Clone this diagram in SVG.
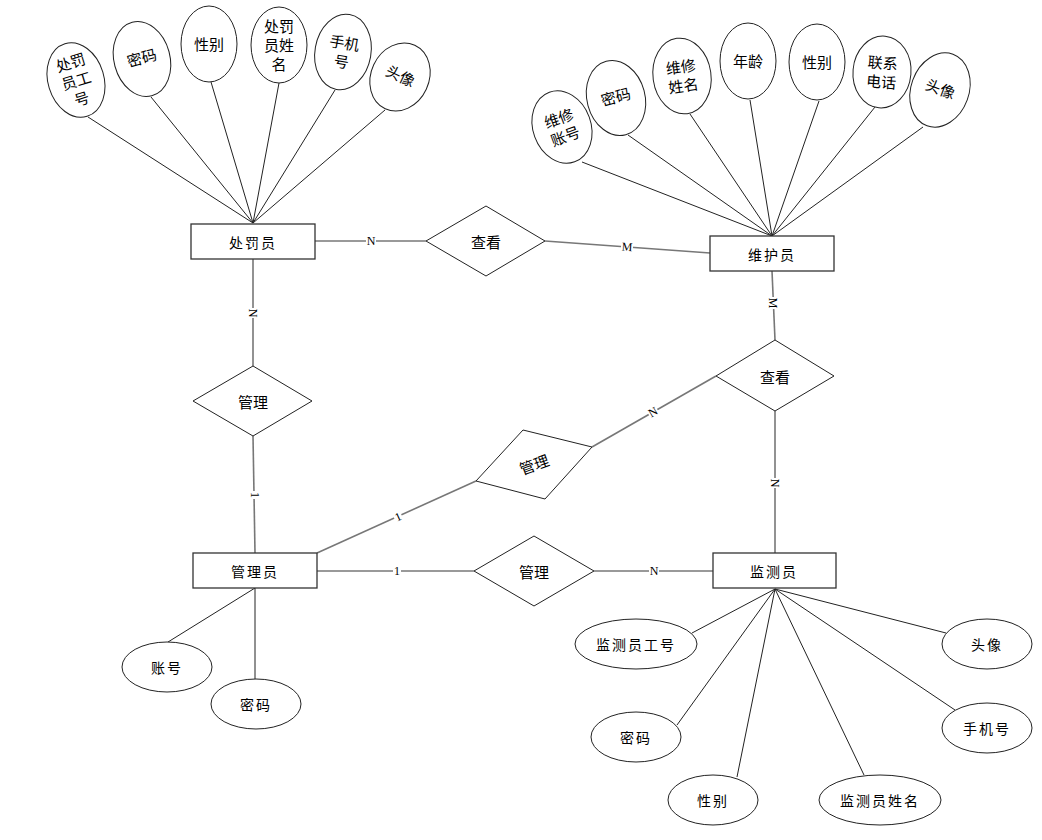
<svg xmlns="http://www.w3.org/2000/svg" width="1042" height="840" viewBox="0 0 1042 840">
<style>
.ent{fill:#fff;stroke:#333;stroke-width:1.3}
.rel{fill:#fff;stroke:#222;stroke-width:1}
.att{fill:#fff;stroke:#222;stroke-width:1}
.t{font-family:"Noto Sans CJK SC","Liberation Sans",sans-serif;font-size:15px;fill:#000;text-anchor:middle;dominant-baseline:central}
.ts{font-family:"Noto Sans CJK SC","Liberation Sans",sans-serif;font-size:14px;fill:#000;text-anchor:middle;dominant-baseline:central;letter-spacing:2px}
.al{stroke:#222;stroke-width:1;fill:none}
.rl{stroke:#777;stroke-width:1.6;fill:none}
.lb{font-family:"Liberation Serif",serif;font-size:12px;fill:#000;text-anchor:middle;dominant-baseline:central}
.lbg{fill:#fff}
</style>
<rect width="1042" height="840" fill="#fff"/>
<g id="connectors">
<!-- 处罚员 attributes -->
<line class="al" x1="253" y1="223" x2="88" y2="117"/>
<line class="al" x1="253" y1="223" x2="151" y2="97"/>
<line class="al" x1="253" y1="223" x2="211" y2="82"/>
<line class="al" x1="253" y1="223" x2="279" y2="83"/>
<line class="al" x1="253" y1="223" x2="335" y2="90"/>
<line class="al" x1="253" y1="223" x2="385" y2="110"/>
<!-- 维护员 attributes -->
<line class="al" x1="772" y1="236" x2="582" y2="162"/>
<line class="al" x1="772" y1="236" x2="628" y2="135"/>
<line class="al" x1="772" y1="236" x2="690" y2="114"/>
<line class="al" x1="772" y1="236" x2="750" y2="100"/>
<line class="al" x1="772" y1="236" x2="819" y2="101"/>
<line class="al" x1="772" y1="236" x2="875" y2="107"/>
<line class="al" x1="772" y1="236" x2="923" y2="127"/>
<!-- 管理员 attributes -->
<line class="al" x1="255" y1="588" x2="168" y2="642"/>
<line class="al" x1="255" y1="588" x2="255" y2="679"/>
<!-- 监测员 attributes -->
<line class="al" x1="775" y1="589" x2="692" y2="633"/>
<line class="al" x1="775" y1="589" x2="677" y2="725"/>
<line class="al" x1="775" y1="589" x2="737" y2="777"/>
<line class="al" x1="775" y1="589" x2="864" y2="775"/>
<line class="al" x1="775" y1="589" x2="955" y2="710"/>
<line class="al" x1="775" y1="589" x2="946" y2="633"/>
<!-- relationships -->
<line class="rl" x1="315" y1="241" x2="426" y2="241"/>
<line class="rl" x1="545" y1="241" x2="710" y2="253"/>
<line class="rl" x1="253" y1="259" x2="253" y2="366"/>
<line class="rl" x1="253" y1="436" x2="255" y2="553"/>
<line class="rl" x1="317" y1="553" x2="476" y2="481"/>
<line class="rl" x1="592" y1="447" x2="716" y2="376"/>
<line class="rl" x1="772" y1="271" x2="775" y2="340"/>
<line class="rl" x1="775" y1="411" x2="775" y2="553"/>
<line class="rl" x1="317" y1="571" x2="474" y2="571"/>
<line class="rl" x1="594" y1="571" x2="713" y2="571"/>
<!-- cardinality labels -->
<g transform="translate(371,241)"><rect class="lbg" x="-5" y="-6" width="10" height="12"/><text class="lb">N</text></g>
<g transform="translate(627,247) rotate(4)"><rect class="lbg" x="-6" y="-6" width="12" height="12"/><text class="lb">M</text></g>
<g transform="translate(253,313) rotate(90)"><rect class="lbg" x="-5" y="-6" width="10" height="12"/><text class="lb">N</text></g>
<g transform="translate(255,495) rotate(90)"><rect class="lbg" x="-4" y="-6" width="8" height="12"/><text class="lb">1</text></g>
<g transform="translate(398,517) rotate(-24)"><rect class="lbg" x="-4" y="-6" width="8" height="12"/><text class="lb">1</text></g>
<g transform="translate(653,412) rotate(-30)"><rect class="lbg" x="-5" y="-6" width="10" height="12"/><text class="lb">N</text></g>
<g transform="translate(773,303) rotate(90)"><rect class="lbg" x="-6" y="-6" width="12" height="12"/><text class="lb">M</text></g>
<g transform="translate(775,483) rotate(90)"><rect class="lbg" x="-5" y="-6" width="10" height="12"/><text class="lb">N</text></g>
<g transform="translate(397,571)"><rect class="lbg" x="-4" y="-6" width="8" height="12"/><text class="lb">1</text></g>
<g transform="translate(654,571)"><rect class="lbg" x="-5" y="-6" width="10" height="12"/><text class="lb">N</text></g>
</g>
<!-- entities -->
<g id="chufayuan"><rect class="ent" x="191" y="224" width="124" height="35"/><text class="ts" x="253" y="241.5">处罚员</text></g>
<g id="weihuyuan"><rect class="ent" x="710" y="236" width="124" height="35"/><text class="ts" x="772" y="253.5">维护员</text></g>
<g id="guanliyuan"><rect class="ent" x="193" y="553" width="124" height="35"/><text class="ts" x="255" y="570.5">管理员</text></g>
<g id="jianceyuan"><rect class="ent" x="713" y="553" width="123" height="35"/><text class="ts" x="774" y="570.5">监测员</text></g>
<!-- relationships -->
<g id="chakan1"><polygon class="rel" points="486,206 545,241 486,276 426,241"/><text class="t" x="486" y="241">查看</text></g>
<g id="guanli1"><polygon class="rel" points="253,366 312,401 253,436 193,401"/><text class="t" x="253" y="401">管理</text></g>
<g id="guanli2"><polygon class="rel" points="523,430 592,447 545,499 476,481"/><text class="t" x="534" y="464" transform="rotate(-20 534 464)">管理</text></g>
<g id="chakan2"><polygon class="rel" points="775,340 834,376 775,411 716,376"/><text class="t" x="775" y="376">查看</text></g>
<g id="guanli3"><polygon class="rel" points="534,536 594,571 534,606 474,571"/><text class="t" x="534" y="571">管理</text></g>
<!-- 处罚员 attributes -->
<g id="cf-gonghao" transform="rotate(-17 76 80)"><ellipse class="att" cx="76" cy="80" rx="28" ry="38"/><text class="t" x="76" y="61">处罚</text><text class="t" x="76" y="80">员工</text><text class="t" x="76" y="99">号</text></g>
<g id="cf-mima" transform="rotate(-15 142 59)"><ellipse class="att" cx="142" cy="59" rx="28" ry="38"/><text class="t" x="142" y="57">密码</text></g>
<g id="cf-xingbie"><ellipse class="att" cx="209" cy="44" rx="28" ry="38"/><text class="t" x="209" y="43">性别</text></g>
<g id="cf-xingming"><ellipse class="att" cx="279" cy="45" rx="28" ry="38"/><text class="t" x="279" y="25">处罚</text><text class="t" x="279" y="44">员姓</text><text class="t" x="279" y="63">名</text></g>
<g id="cf-shouji" transform="rotate(10 343 52)"><ellipse class="att" cx="343" cy="52" rx="28" ry="38"/><text class="t" x="343" y="42">手机</text><text class="t" x="343" y="61">号</text></g>
<g id="cf-touxiang" transform="rotate(25 400 77)"><ellipse class="att" cx="400" cy="77" rx="29" ry="35"/><text class="t" x="400" y="75">头像</text></g>
<!-- 维护员 attributes -->
<g id="wh-zhanghao" transform="rotate(-20 562 127)"><ellipse class="att" cx="562" cy="127" rx="29" ry="37"/><text class="t" x="562" y="117">维修</text><text class="t" x="562" y="136">账号</text></g>
<g id="wh-mima" transform="rotate(-15 616 98)"><ellipse class="att" cx="616" cy="98" rx="29" ry="38"/><text class="t" x="616" y="96">密码</text></g>
<g id="wh-xingming" transform="rotate(-8 682 76)"><ellipse class="att" cx="682" cy="76" rx="29" ry="38"/><text class="t" x="682" y="66">维修</text><text class="t" x="682" y="85">姓名</text></g>
<g id="wh-nianling"><ellipse class="att" cx="748" cy="61" rx="28" ry="38"/><text class="t" x="748" y="60">年龄</text></g>
<g id="wh-xingbie"><ellipse class="att" cx="817" cy="62" rx="28" ry="38"/><text class="t" x="817" y="61">性别</text></g>
<g id="wh-dianhua" transform="rotate(5 882 72)"><ellipse class="att" cx="882" cy="72" rx="29" ry="36"/><text class="t" x="882" y="62">联系</text><text class="t" x="882" y="81">电话</text></g>
<g id="wh-touxiang" transform="rotate(20 940 90)"><ellipse class="att" cx="940" cy="90" rx="29" ry="38"/><text class="t" x="940" y="88">头像</text></g>
<!-- 管理员 attributes -->
<g id="gl-zhanghao"><ellipse class="att" cx="167" cy="667" rx="45" ry="25"/><text class="ts" x="167" y="667">账号</text></g>
<g id="gl-mima"><ellipse class="att" cx="256" cy="704" rx="45" ry="25"/><text class="ts" x="256" y="704">密码</text></g>
<!-- 监测员 attributes -->
<g id="jc-gonghao"><ellipse class="att" cx="636" cy="644" rx="61" ry="25"/><text class="ts" x="636" y="644">监测员工号</text></g>
<g id="jc-touxiang"><ellipse class="att" cx="987" cy="644" rx="45" ry="25"/><text class="ts" x="987" y="644">头像</text></g>
<g id="jc-mima"><ellipse class="att" cx="636" cy="737" rx="45" ry="25"/><text class="ts" x="636" y="737">密码</text></g>
<g id="jc-shouji"><ellipse class="att" cx="987" cy="728" rx="45" ry="25"/><text class="ts" x="987" y="728">手机号</text></g>
<g id="jc-xingbie"><ellipse class="att" cx="713" cy="800" rx="45" ry="25"/><text class="ts" x="713" y="800">性别</text></g>
<g id="jc-xingming"><ellipse class="att" cx="880" cy="800" rx="61" ry="25"/><text class="ts" x="880" y="800">监测员姓名</text></g>
</svg>
